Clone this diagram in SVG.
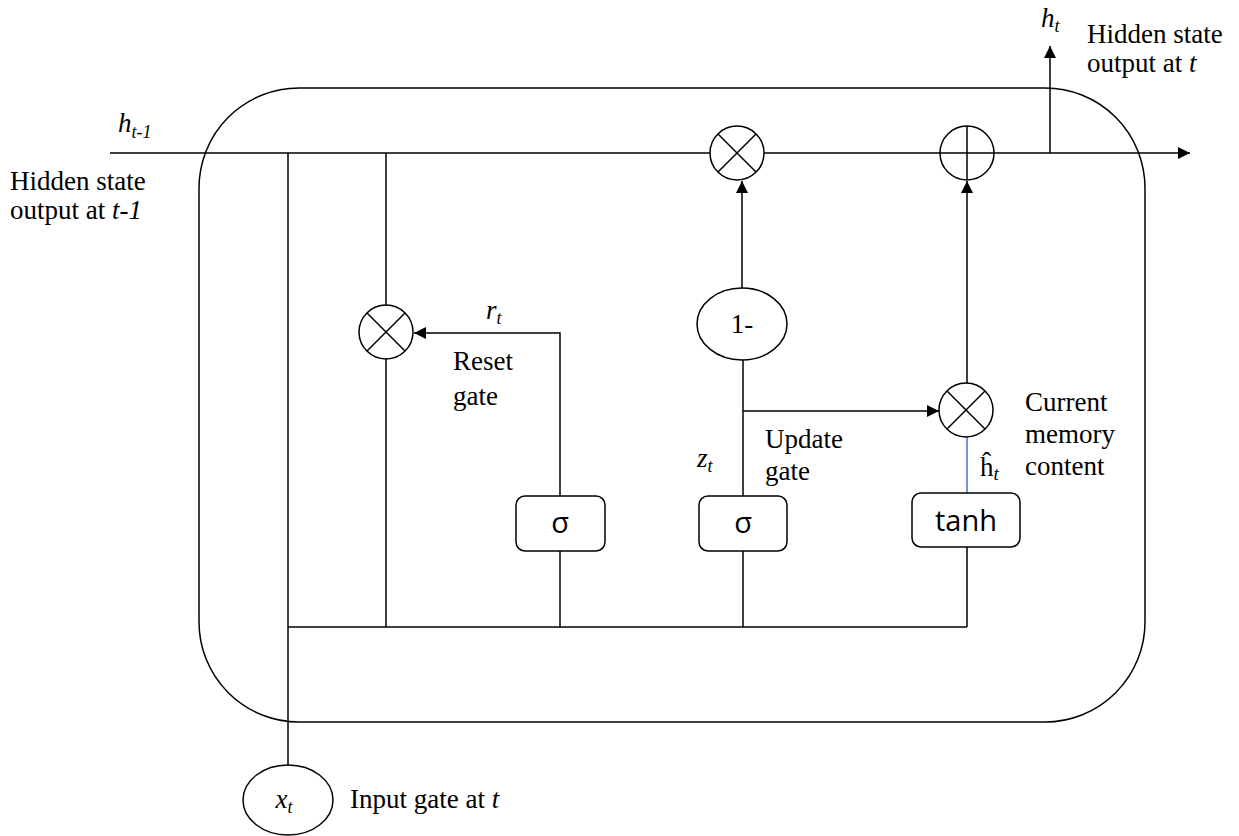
<svg xmlns="http://www.w3.org/2000/svg" width="1239" height="836" viewBox="0 0 1239 836">
<defs>
<marker id="arr" markerUnits="userSpaceOnUse" markerWidth="14" markerHeight="12" refX="12" refY="6" orient="auto">
<path d="M0,0 L12,6 L0,12 Z" fill="#000"/>
</marker>
<style>
.ln{stroke:#000;stroke-width:1.5;fill:none}
.nd{stroke:#000;stroke-width:1.5;fill:#fff}
.t{font-family:"Liberation Serif",serif;font-size:27px;fill:#000}
.i{font-style:italic}
.s{font-family:"Open Sans","DejaVu Sans",sans-serif;font-size:29px;fill:#000}
</style>
</defs>
<rect x="0" y="0" width="1239" height="836" fill="#fff"/>
<rect id="cell" x="199" y="88" width="946" height="634" rx="100" ry="100" class="ln"/>
<g id="connectors">
<line x1="110" y1="153" x2="1190" y2="153" class="ln" marker-end="url(#arr)"/>
<line x1="1050" y1="153" x2="1050" y2="46" class="ln" marker-end="url(#arr)"/>
<line x1="288" y1="153" x2="288" y2="765" class="ln"/>
<line x1="386" y1="153" x2="386" y2="627" class="ln"/>
<line x1="288" y1="627" x2="967" y2="627" class="ln"/>
<line x1="560" y1="627" x2="560" y2="551" class="ln"/>
<line x1="743" y1="627" x2="743" y2="551" class="ln"/>
<line x1="967" y1="627" x2="967" y2="547" class="ln"/>
<polyline points="560,496 560,333 414,333" class="ln" marker-end="url(#arr)"/>
<line x1="743" y1="496" x2="743" y2="360" class="ln"/>
<line x1="743" y1="411" x2="939" y2="411" class="ln" marker-end="url(#arr)"/>
<line x1="742" y1="288" x2="742" y2="181" class="ln" marker-end="url(#arr)"/>
<line x1="967" y1="383" x2="967" y2="181" class="ln" marker-end="url(#arr)"/>
<line x1="967" y1="437" x2="967" y2="493" stroke="#4472c4" stroke-width="1.5"/>
</g>
<g id="mul-top">
<circle cx="737" cy="153" r="27" class="nd"/>
<path d="M718,134 L756,172 M756,134 L718,172" class="ln"/>
</g>
<g id="add-top">
<circle cx="967" cy="153" r="27" class="nd"/>
<path d="M940,153 L994,153 M967,126 L967,180" class="ln"/>
</g>
<g id="mul-reset">
<circle cx="386" cy="332" r="27" class="nd"/>
<path d="M367,313 L405,351 M405,313 L367,351" class="ln"/>
</g>
<g id="mul-current">
<circle cx="966" cy="410" r="27" class="nd"/>
<path d="M947,391 L985,429 M985,391 L947,429" class="ln"/>
</g>
<g id="one-minus">
<ellipse cx="742" cy="324" rx="45" ry="36" class="nd"/>
<text x="742" y="333" class="t" text-anchor="middle">1-</text>
</g>
<g id="sigma-reset">
<rect x="516" y="496" width="89" height="55" rx="9" class="nd"/>
<text x="560" y="533" class="s" text-anchor="middle">σ</text>
</g>
<g id="sigma-update">
<rect x="699" y="496" width="88" height="55" rx="9" class="nd"/>
<text x="743" y="533" class="s" text-anchor="middle">σ</text>
</g>
<g id="tanh">
<rect x="912" y="493" width="108" height="54" rx="9" class="nd"/>
<text x="966" y="531" class="s" text-anchor="middle">tanh</text>
</g>
<g id="input">
<ellipse cx="288" cy="800" rx="45" ry="35" class="nd"/>
<text x="284" y="808" class="t i" text-anchor="middle">x<tspan font-size="18" dy="5">t</tspan></text>
</g>
<g id="labels">
<text x="118" y="132" class="t i">h<tspan font-size="18" dy="6">t-1</tspan></text>
<text x="10" y="190" class="t">Hidden state</text>
<text x="10" y="219" class="t">output at <tspan class="i">t-1</tspan></text>
<text x="1041" y="27" class="t i">h<tspan font-size="18" dy="5">t</tspan></text>
<text x="1087" y="43" class="t">Hidden state</text>
<text x="1087" y="72" class="t">output at <tspan class="i">t</tspan></text>
<text x="486" y="319" class="t i">r<tspan font-size="18" dy="5">t</tspan></text>
<text x="453" y="370" class="t">Reset</text>
<text x="453" y="405" class="t">gate</text>
<text x="765" y="448" class="t">Update</text>
<text x="765" y="480" class="t">gate</text>
<text x="697" y="467" class="t i">z<tspan font-size="18" dy="5">t</tspan></text>
<text x="1025" y="411" class="t">Current</text>
<text x="1025" y="443" class="t">memory</text>
<text x="1025" y="475" class="t">content</text>
<text x="980" y="476" class="t">ĥ<tspan class="i" font-size="19" dy="4">t</tspan></text>
<text x="350" y="808" class="t">Input gate at <tspan class="i">t</tspan></text>
</g>
</svg>
